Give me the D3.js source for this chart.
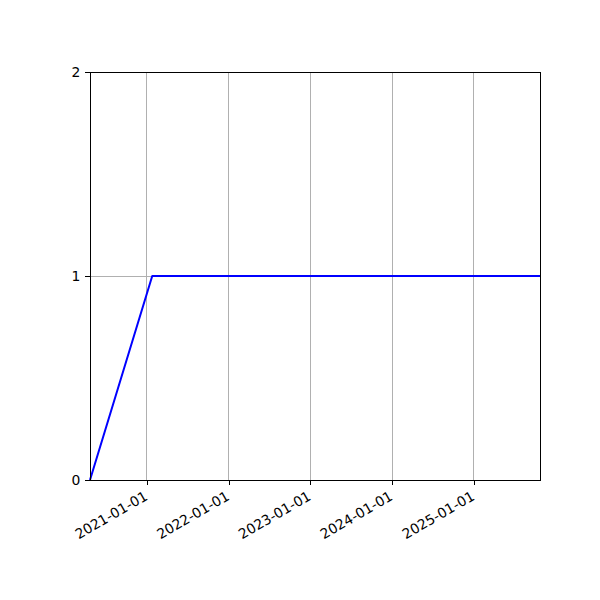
<!DOCTYPE html>
<html><head><meta charset="utf-8">
<script src="https://cdn.jsdelivr.net/npm/d3@7"></script>
<style>body{margin:0;background:#fff}svg{display:block}</style>
</head><body>
<script>
const dates = ["2020-04-22", "2021-01-25", "2025-10-23"];
const values = [0, 1, 1];
const xTickLabels = ["2021-01-01", "2022-01-01", "2023-01-01", "2024-01-01", "2025-01-01"];
const yTickValues = [0, 1, 2];

const W = 600, H = 600;
const m = {left: 90, right: 60, top: 72, bottom: 120};
const parse = d3.utcParse("%Y-%m-%d");
const svg = d3.select("body").append("svg").attr("width", W).attr("height", H);

const x = d3.scaleUtc().domain([parse(dates[0]), parse(dates[dates.length-1])]).range([m.left, W - m.right]);
const y = d3.scaleLinear().domain([0, 2]).range([H - m.bottom, m.top]);

const font = "DejaVu Sans, sans-serif";
const fs = 13.9;

// grid
svg.append("g").attr("shape-rendering", "crispEdges").selectAll("line").data(xTickLabels).join("line")
  .attr("x1", d => x(parse(d))).attr("x2", d => x(parse(d)))
  .attr("y1", y(0)).attr("y2", y(2))
  .attr("stroke", "#b0b0b0").attr("stroke-width", 1);
svg.append("g").attr("shape-rendering", "crispEdges").selectAll("line").data(yTickValues).join("line")
  .attr("x1", m.left).attr("x2", W - m.right)
  .attr("y1", d => y(d)).attr("y2", d => y(d))
  .attr("stroke", "#b0b0b0").attr("stroke-width", 1);

// line
const line = d3.line().x((d, i) => x(parse(dates[i]))).y(d => y(d));
svg.append("path").datum(values).attr("d", line)
  .attr("fill", "none").attr("stroke", "#0000ff").attr("stroke-width", 2)
  .attr("stroke-linejoin", "round");

// x axis
const xAxis = d3.axisBottom(x).tickValues(xTickLabels.map(parse)).tickSize(4.86).tickPadding(4.86)
  .tickFormat(d3.utcFormat("%Y-%m-%d"));
const gx = svg.append("g").attr("transform", `translate(0,${y(0)})`).call(xAxis);
gx.select(".domain").remove();
gx.selectAll(".tick line").attr("stroke", "#000").attr("stroke-width", 1).attr("shape-rendering", "crispEdges");
gx.selectAll(".tick text")
  .attr("font-family", font).attr("font-size", fs).attr("fill", "#000")
  .attr("text-anchor", "end")
  .attr("dy", "0.75em").attr("y", 10).attr("x", -4)
  .attr("transform", "rotate(-30, -4, 10)");

// y axis
const yAxis = d3.axisLeft(y).tickValues(yTickValues).tickSize(4.86).tickPadding(4.86).tickFormat(d3.format("d"));
const gy = svg.append("g").attr("transform", `translate(${m.left},0)`).call(yAxis);
gy.select(".domain").remove();
gy.selectAll(".tick line").attr("stroke", "#000").attr("stroke-width", 1).attr("shape-rendering", "crispEdges");
gy.selectAll(".tick text").attr("font-family", font).attr("font-size", fs).attr("fill", "#000");

// frame
svg.append("rect").attr("x", m.left).attr("y", m.top)
  .attr("width", W - m.left - m.right).attr("height", H - m.top - m.bottom)
  .attr("fill", "none").attr("stroke", "#000").attr("stroke-width", 1).attr("shape-rendering", "crispEdges");
</script>
</body></html>
